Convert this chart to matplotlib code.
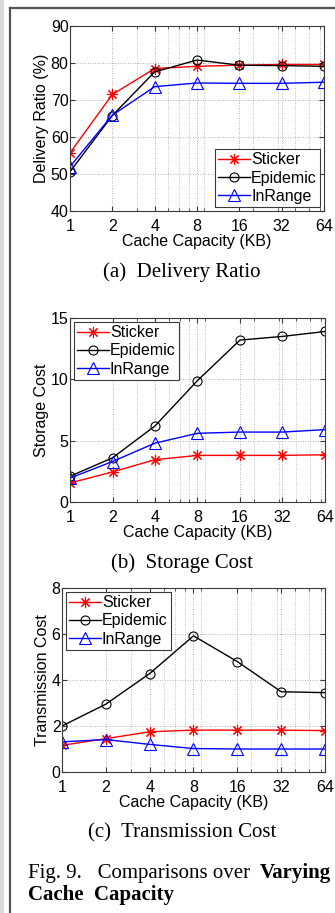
import numpy as np
import matplotlib
matplotlib.use("Agg")
import matplotlib.pyplot as plt
from matplotlib.lines import Line2D
from matplotlib.patches import Rectangle
from matplotlib.ticker import FixedLocator, LogLocator, NullFormatter

# cache sizes (KB) shared by all three panels
cache_kb = [1, 2, 4, 8, 16, 32, 64]
cache_labels = ["1", "2", "4", "8", "16", "32", "64"]
schemes = ["Sticker", "Epidemic", "InRange"]

# (a) delivery ratio, %
ratio_sticker = [55.7, 71.5, 78.5, 79.1, 79.4, 79.6, 79.6]
ratio_epidemic = [50.6, 65.8, 77.6, 80.8, 79.4, 79.3, 79.1]
ratio_inrange = [52.0, 65.9, 73.6, 74.6, 74.5, 74.5, 74.8]

# (b) storage cost
storage_sticker = [1.55, 2.45, 3.45, 3.8, 3.8, 3.8, 3.85]
storage_epidemic = [2.1, 3.6, 6.2, 9.9, 13.2, 13.5, 13.9]
storage_inrange = [1.95, 3.3, 4.8, 5.6, 5.7, 5.7, 5.9]

# (c) transmission cost
trans_sticker = [1.16, 1.45, 1.75, 1.82, 1.82, 1.82, 1.8]
trans_epidemic = [2.0, 2.95, 4.28, 5.92, 4.8, 3.49, 3.45]
trans_inrange = [1.31, 1.41, 1.2, 1.02, 1.0, 1.0, 1.0]

W, H = 335, 913
SANS = ["Liberation Sans", "DejaVu Sans"]
SERIF = ["Liberation Serif", "DejaVu Serif"]
FRAME = "#3a3a3a"
FS = 11.5      # axis text
CAP = 15       # caption text

fig = plt.figure(figsize=(W / 100, H / 100), dpi=100)
fig.patch.set_facecolor("white")


def rect(l, t, r, b):
    return [l / W, 1 - b / H, (r - l) / W, (b - t) / H]


styles = [
    dict(color="red", marker=(8, 2, 0), ms=8, mfc="red", mec="red", mew=0.8),
    dict(color="black", marker="o", ms=6.5, mfc="none", mec="black", mew=0.8),
    dict(color="blue", marker="^", ms=8, mfc="none", mec="blue", mew=0.8),
]


def panel(box, series, ylim, yticks, ylabel, legend_loc):
    ax = fig.add_axes(rect(*box))
    for vals, name, st in zip(series, schemes, styles):
        ax.plot(cache_kb, vals, lw=1.0, label=name, **st)
    ax.set_xscale("log")
    ax.set_xlim(1, 64)
    ax.set_ylim(*ylim)
    ax.xaxis.set_major_locator(FixedLocator(cache_kb))
    ax.set_xticklabels(cache_labels)
    ax.xaxis.set_minor_locator(LogLocator(base=10, subs=np.arange(2, 10)))
    ax.xaxis.set_minor_formatter(NullFormatter())
    ax.set_yticks(yticks)
    ax.tick_params(which="both", direction="in", top=True, right=True,
                   color=FRAME, labelsize=FS)
    ax.tick_params(which="major", length=3.5)
    ax.tick_params(which="minor", length=2)
    ax.tick_params(axis="x", pad=5.5)
    ax.tick_params(axis="y", pad=1)
    for lab in ax.get_xticklabels() + ax.get_yticklabels():
        lab.set_family(SANS)
    for sp in ax.spines.values():
        sp.set_color(FRAME)
        sp.set_linewidth(0.8)
    ax.grid(True, which="major", ls=(0, (1, 2)), color="#999999", lw=0.6)
    ax.grid(True, which="minor", axis="x", ls=(0, (1, 2)), color="#aaaaaa", lw=0.6)
    ax.set_axisbelow(True)
    ax.set_xlabel("Cache Capacity (KB)", family=SANS, fontsize=FS, labelpad=0)
    ax.set_ylabel(ylabel, family=SANS, fontsize=FS, labelpad=1)
    leg = ax.legend(loc=legend_loc, prop={"family": SANS, "size": FS},
                    fancybox=False, edgecolor=FRAME, framealpha=1,
                    handlelength=2.0, handletextpad=0.05, borderpad=0.2,
                    labelspacing=0.2, borderaxespad=0.25)
    leg.get_frame().set_linewidth(0.8)
    return ax


panel((70, 26, 324, 211), [ratio_sticker, ratio_epidemic, ratio_inrange],
      (40, 90), [40, 50, 60, 70, 80, 90], "Delivery Ratio (%)", "lower right")
panel((70, 318, 325, 502), [storage_sticker, storage_epidemic, storage_inrange],
      (0, 15), [0, 5, 10, 15], "Storage Cost", "upper left")
panel((62, 588, 325, 772), [trans_sticker, trans_epidemic, trans_inrange],
      (0, 8), [0, 2, 4, 6, 8], "Transmission Cost", "upper left")

# sub-figure captions
for y, txt in [(272, "(a)  Delivery Ratio"), (563, "(b)  Storage Cost"),
               (833, "(c)  Transmission Cost")]:
    fig.text(182 / W, 1 - y / H, txt, family=SERIF, fontsize=CAP,
             ha="center", va="center")

# figure caption: regular lead-in followed by bold words on the same line
renderer = fig.canvas.get_renderer()
lead = fig.text(28 / W, 1 - 873 / H, "Fig. 9.   Comparisons over ", family=SERIF,
                fontsize=CAP, ha="left", va="center")
lead_end = lead.get_window_extent(renderer).x1
fig.text(lead_end / W + 4 / W, 1 - 873 / H, "Varying", family=SERIF,
         fontsize=CAP, weight="bold", ha="left", va="center")
fig.text(28 / W, 1 - 895 / H, "Cache  Capacity", family=SERIF, fontsize=CAP,
         weight="bold", ha="left", va="center")

# page margin and column frame
fig.add_artist(Rectangle((0, 0), 3.5 / W, 1, transform=fig.transFigure,
                         facecolor="#d9d9d9", edgecolor="none"))
fig.add_artist(Line2D([10 / W, 10 / W], [0, 1 - 8 / H], transform=fig.transFigure,
                      color="#555555", lw=1.6))
fig.add_artist(Line2D([10 / W, 1], [1 - 8.5 / H, 1 - 8.5 / H],
                      transform=fig.transFigure, color="#555555", lw=1.6))

fig.savefig("out.png", dpi=100)
